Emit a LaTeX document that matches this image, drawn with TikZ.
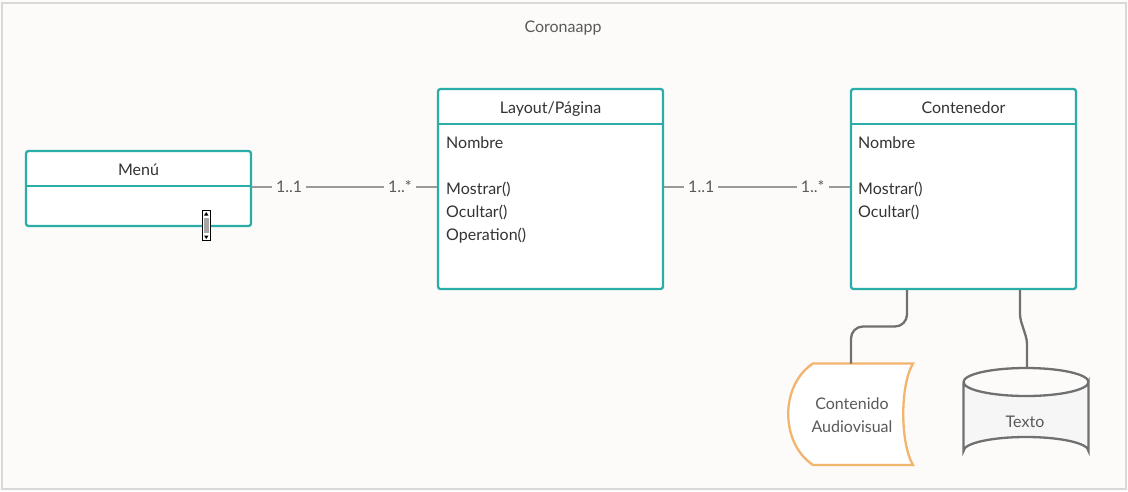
\documentclass[tikz,border=0pt]{standalone}
\usepackage{fontspec}
\setmainfont{Lato}
\usetikzlibrary{calc}
\definecolor{bgc}{HTML}{FCFBF9}
\definecolor{framec}{HTML}{D9D9D9}
\definecolor{teal}{HTML}{2AADA8}
\definecolor{txt}{HTML}{333333}
\definecolor{lbl}{HTML}{5A5A5A}
\definecolor{connc}{HTML}{9A9A9A}
\definecolor{darkconn}{HTML}{707070}
\definecolor{orangec}{HTML}{F2B56E}
\definecolor{cylfill}{HTML}{F6F6F6}
\tikzset{
  classbox/.style={draw=teal, line width=2.3pt, rounded corners=2.5pt, fill=white, minimum width=225pt, inner sep=0pt},
  classtitle/.style={font=\fontsize{16}{19}\selectfont, text=txt, inner sep=0pt, anchor=base},
  member/.style={font=\fontsize{16}{19}\selectfont, text=txt, inner sep=0pt, anchor=base west},
  assoc/.style={draw=connc, line width=2pt},
  mult/.style={font=\fontsize{16}{19}\selectfont, text=lbl, fill=bgc, inner xsep=4pt, inner ysep=1pt},
  link/.style={draw=darkconn, line width=2.3pt},
}
\begin{document}
\begin{tikzpicture}[x=1pt,y=-1pt]
\useasboundingbox (0,0) rectangle (1128,491);
\fill[bgc] (0,0) rectangle (1128,491);
\draw[framec, line width=2pt] (1.5,2.5) rectangle (1126,489);
\node[font=\fontsize{16}{19}\selectfont, text=lbl, inner sep=0pt, anchor=base] (title) at (563,32) {Coronaapp};

% Classes
\node[classbox, minimum height=75pt] (menu) at (138.5,188.5) {};
\draw[teal, line width=2.3pt] (menu.west |- 0,186) -- (menu.east |- 0,186);
\node[classtitle] (menut) at (138.5,175) {Menú};

\node[classbox, minimum height=200pt] (layout) at (550.5,189) {};
\draw[teal, line width=2.3pt] (layout.west |- 0,124) -- (layout.east |- 0,124);
\node[classtitle] (layoutt) at (550.5,113) {Layout/Página};
\node[member] (l1) at (446,148) {Nombre};
\node[member] (l2) at (446,194) {Mostrar()};
\node[member] (l3) at (446,217) {Ocultar()};
\node[member] (l4) at (446,240) {Operation()};

\node[classbox, minimum height=200pt] (cont) at (963.5,189) {};
\draw[teal, line width=2.3pt] (cont.west |- 0,124) -- (cont.east |- 0,124);
\node[classtitle] (contt) at (963.5,113) {Contenedor};
\node[member] (c1) at (858,148) {Nombre};
\node[member] (c2) at (858,194) {Mostrar()};
\node[member] (c3) at (858,217) {Ocultar()};

% scroll widget
\draw[black, line width=0.8pt, fill=white] (202,210.5) rectangle (210.5,240.5);
\fill[black!35] (203.5,218) rectangle (209,233);
\fill[black] (206.25,212) -- (208.5,215.5) -- (204,215.5) -- cycle;
\fill[black] (206.25,239) -- (208.5,235.5) -- (204,235.5) -- cycle;

% Associations
\draw[assoc] (menu.east |- 0,187) -- (layout.west |- 0,187)
  node[mult, pos=0.2] (m1) {1..1}
  node[mult, pos=0.8] (m2) {1..*};
\draw[assoc] (layout.east |- 0,187) -- (cont.west |- 0,187)
  node[mult, pos=0.2] (m3) {1..1}
  node[mult, pos=0.8] (m4) {1..*};

% Contenido Audiovisual shape
\draw[orangec, line width=2.3pt, fill=white]
  (813,363.5) -- (913,363.5)
  .. controls (900,385) and (900,443) .. (913,465)
  -- (813,465)
  .. controls (780,443) and (780,385) .. (813,363.5) -- cycle;
\coordinate (cavtop) at (851,363.5);
\node[font=\fontsize{16}{23}\selectfont, text=lbl, align=center, inner sep=0pt] (cav) at (852,415) {Contenido\\Audiovisual};

% Cylinder Texto
\draw[darkconn, line width=2.3pt, fill=cylfill]
  (963.5,382) -- (963.5,451) arc[start angle=180, end angle=360, x radius=62.5, y radius=14] -- (1088.5,382)
  arc[start angle=0, end angle=180, x radius=62.5, y radius=14];
\draw[darkconn, line width=2.3pt] (963.5,382) arc[start angle=180, end angle=360, x radius=62.5, y radius=14];
\coordinate (cyltop) at (1027,368);
\node[font=\fontsize{16}{19}\selectfont, text=lbl, inner sep=0pt] (texto) at (1025,422) {Texto};

% Links
\draw[link, rounded corners=12pt] (cont.south -| 907,0) -- (907,326.5) -- (851,326.5) -- (cavtop);
\draw[link, rounded corners=4pt] (cont.south -| 1020,0) -- (1020,318) -- (1027,340) -- (cyltop);
\end{tikzpicture}
\end{document}
